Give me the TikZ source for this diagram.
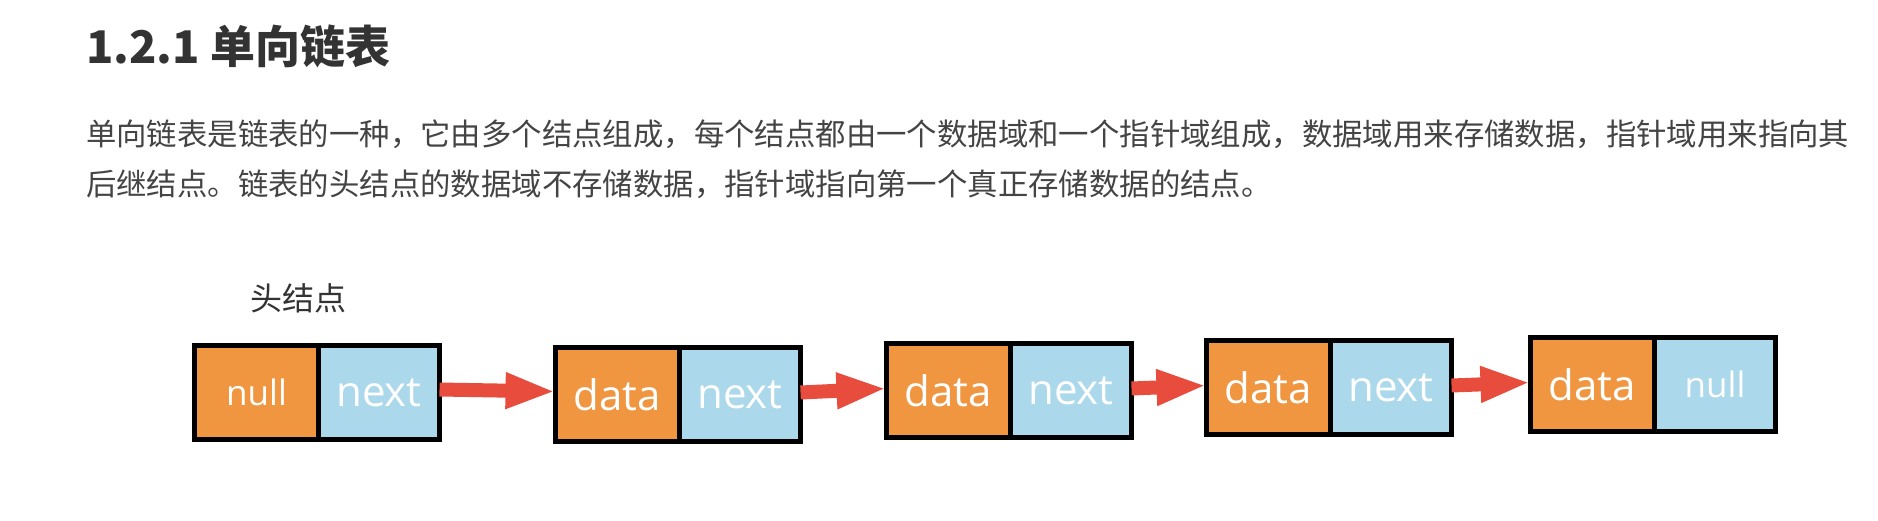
\documentclass[tikz,border=0pt]{standalone}
\usepackage{fontspec}
\newfontfamily\cjk{Noto Sans CJK SC}
\newfontfamily\boxfont{Open Sans}
\usetikzlibrary{arrows.meta}
\definecolor{nodeorange}{HTML}{F09641}
\definecolor{nodeblue}{HTML}{ABD8EB}
\definecolor{arrowred}{HTML}{E74C3C}
\definecolor{titlegray}{HTML}{333333}
\definecolor{textgray}{HTML}{444444}
\tikzset{
  txt/.style={anchor=base west, inner sep=0pt, outer sep=0pt},
  para/.style={txt, text=textgray, font=\cjk\fontsize{30.4}{37}\selectfont},
  field/.style={draw=black, line width=5pt, inner sep=0pt, outer sep=0pt,
    anchor=north west, minimum height=94pt, text=white},
  datafield/.style={field, fill=nodeorange, minimum width=124pt},
  ptrfield/.style={field, fill=nodeblue, minimum width=121pt},
  bigword/.style={font=\boxfont\fontsize{42}{46}\selectfont},
  smallword/.style={font=\boxfont\fontsize{35}{40}\selectfont},
  link/.style={draw=arrowred, line width=14pt, -{Triangle[length=50pt,width=33pt]}},
}
\begin{document}
\begin{tikzpicture}[x=1pt,y=-1pt]
\useasboundingbox[fill=white] (0,0) rectangle (1878,520);

\node[txt, text=titlegray, font=\cjk\bfseries\fontsize{45}{54}\selectfont] (title) at (86,63) {1.2.1 单向链表};
\node[para] (line1) at (86,145) {单向链表是链表的一种，它由多个结点组成，每个结点都由一个数据域和一个指针域组成，数据域用来存储数据，指针域用来指向其};
\node[para] (line2) at (86,195) {后继结点。链表的头结点的数据域不存储数据，指针域指向第一个真正存储数据的结点。};

\node[txt, text=titlegray, font=\cjk\fontsize{32}{38}\selectfont] (headlabel) at (250,310) {头结点};

% node 1 (head)
\node[datafield, smallword] (d1) at (194.5,345.5) {null\hspace{40pt}};
\node[ptrfield, bigword] (n1) at (d1.north east) {next};
% node 2
\node[datafield, bigword] (d2) at (555.5,347.5) {data};
\node[ptrfield, bigword] (n2) at (d2.north east) {next};
% node 3
\node[datafield, bigword] (d3) at (886.5,343.5) {data};
\node[ptrfield, bigword] (n3) at (d3.north east) {next};
% node 4
\node[datafield, bigword] (d4) at (1206.5,340.5) {data};
\node[ptrfield, bigword] (n4) at (d4.north east) {next};
% node 5
\node[datafield, bigword] (d5) at (1530.5,337.5) {data};
\node[ptrfield, smallword] (n5) at (d5.north east) {null};

\draw[link] ([yshift=3pt]n1.east) -- ([yshift=3pt]d2.west);
\draw[link] ([yshift=2pt]n2.east) -- ([yshift=2pt]d3.west);
\draw[link] ([yshift=2pt]n3.east) -- ([yshift=2pt]d4.west);
\draw[link] ([yshift=2pt]n4.east) -- ([yshift=2pt]d5.west);
\end{tikzpicture}
\end{document}
